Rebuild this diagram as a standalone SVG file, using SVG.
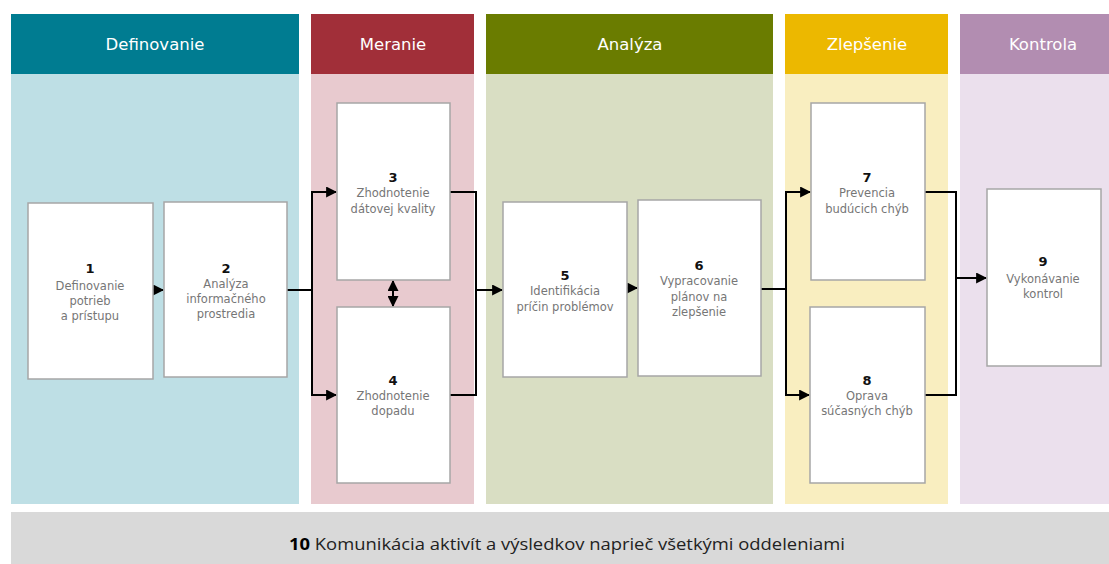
<svg xmlns="http://www.w3.org/2000/svg" width="1109" height="564" viewBox="0 0 1109 564">
<style>
.hd{font-family:"DejaVu Sans","Liberation Sans",sans-serif;font-size:16.5px;fill:#fff;text-anchor:middle}
.bx{fill:#fff;stroke:#a6a6a6;stroke-width:1.5}
.num{font-family:"DejaVu Sans","Liberation Sans",sans-serif;font-size:13px;font-weight:bold;fill:#111;text-anchor:middle}
.tx{font-family:"DejaVu Sans","Liberation Sans",sans-serif;font-size:11.5px;fill:#767676;text-anchor:middle}
.ln{fill:none;stroke:#000;stroke-width:2}
</style>
<defs>
<marker id="ah" viewBox="0 0 10 10" refX="9" refY="5" markerWidth="5.5" markerHeight="5.5" orient="auto-start-reverse" markerUnits="strokeWidth">
<path d="M0,0 L10,5 L0,10 z" fill="#000"/>
</marker>
</defs>
<rect width="1109" height="564" fill="#fff"/>
<g id="lanes">
<rect x="11" y="14" width="288" height="60" fill="#007c91"/>
<rect x="11" y="74" width="288" height="430" fill="#bedfe5"/>
<rect x="311" y="14" width="163" height="60" fill="#a12f39"/>
<rect x="311" y="74" width="163" height="430" fill="#e8cacf"/>
<rect x="486" y="14" width="287" height="60" fill="#6a7c00"/>
<rect x="486" y="74" width="287" height="430" fill="#d9dec3"/>
<rect x="785" y="14" width="163" height="60" fill="#ecb800"/>
<rect x="785" y="74" width="163" height="430" fill="#f9eec0"/>
<rect x="960" y="14" width="149" height="60" fill="#b28db1"/>
<rect x="960" y="74" width="149" height="430" fill="#ebe0ed"/>
<text class="hd" x="155" y="50">Definovanie</text>
<text class="hd" x="393" y="50">Meranie</text>
<text class="hd" x="630" y="50">Analýza</text>
<text class="hd" x="867" y="50">Zlepšenie</text>
<text class="hd" x="1043" y="50">Kontrola</text>
</g>
<g id="node10">
<rect x="11" y="512" width="1098" height="52" fill="#d9d9d9"/>
<text x="567" y="550" font-family="'Open Sans','Liberation Sans',sans-serif" font-size="16" fill="#222" text-anchor="middle" textLength="556" lengthAdjust="spacingAndGlyphs"><tspan font-weight="bold" fill="#000">10</tspan> Komunikácia aktivít a výsledkov naprieč všetkými oddeleniami</text>
</g>
<g id="connectors">
<line class="ln" x1="153" y1="290" x2="163" y2="290" marker-end="url(#ah)"/>
<path class="ln" d="M287,290 H312"/>
<path class="ln" d="M312,290 V192 H336" marker-end="url(#ah)"/>
<path class="ln" d="M312,290 V395 H336" marker-end="url(#ah)"/>
<line class="ln" x1="393" y1="281" x2="393" y2="306" marker-start="url(#ah)" marker-end="url(#ah)"/>
<path class="ln" d="M450,192 H476 V395 H450"/>
<line class="ln" x1="476" y1="290" x2="502" y2="290" marker-end="url(#ah)"/>
<line class="ln" x1="627" y1="288" x2="637" y2="288" marker-end="url(#ah)"/>
<path class="ln" d="M761,289 H786"/>
<path class="ln" d="M786,289 V192 H810" marker-end="url(#ah)"/>
<path class="ln" d="M786,289 V395 H809" marker-end="url(#ah)"/>
<path class="ln" d="M925,192 H956 V395 H925"/>
<line class="ln" x1="956" y1="278" x2="986" y2="278" marker-end="url(#ah)"/>
</g>
<g id="node1"><rect class="bx" x="28" y="203" width="125" height="176"/>
<text class="num" x="90" y="273">1</text><text class="tx" x="90" y="290">Definovanie</text><text class="tx" x="90" y="305">potrieb</text><text class="tx" x="90" y="320">a prístupu</text></g>
<g id="node2"><rect class="bx" x="164" y="202" width="123" height="175"/>
<text class="num" x="226" y="273">2</text><text class="tx" x="226" y="288">Analýza</text><text class="tx" x="226" y="303">informačného</text><text class="tx" x="226" y="318">prostredia</text></g>
<g id="node3"><rect class="bx" x="337" y="103" width="113" height="177"/>
<text class="num" x="393" y="182">3</text><text class="tx" x="393" y="197">Zhodnotenie</text><text class="tx" x="393" y="213">dátovej kvality</text></g>
<g id="node4"><rect class="bx" x="337" y="307" width="113" height="176"/>
<text class="num" x="393" y="385">4</text><text class="tx" x="393" y="400">Zhodnotenie</text><text class="tx" x="393" y="415">dopadu</text></g>
<g id="node5"><rect class="bx" x="503" y="202" width="124" height="175"/>
<text class="num" x="565" y="280">5</text><text class="tx" x="565" y="295">Identifikácia</text><text class="tx" x="565" y="311">príčin problémov</text></g>
<g id="node6"><rect class="bx" x="638" y="200" width="123" height="176"/>
<text class="num" x="699" y="270">6</text><text class="tx" x="699" y="285">Vypracovanie</text><text class="tx" x="699" y="301">plánov na</text><text class="tx" x="699" y="316">zlepšenie</text></g>
<g id="node7"><rect class="bx" x="811" y="103" width="114" height="177"/>
<text class="num" x="867" y="182">7</text><text class="tx" x="867" y="197">Prevencia</text><text class="tx" x="867" y="213">budúcich chýb</text></g>
<g id="node8"><rect class="bx" x="810" y="307" width="115" height="176"/>
<text class="num" x="867" y="385">8</text><text class="tx" x="867" y="400">Oprava</text><text class="tx" x="867" y="415">súčasných chýb</text></g>
<g id="node9"><rect class="bx" x="987" y="189" width="114" height="177"/>
<text class="num" x="1043" y="266">9</text><text class="tx" x="1043" y="283">Vykonávanie</text><text class="tx" x="1043" y="298">kontrol</text></g>
</svg>
